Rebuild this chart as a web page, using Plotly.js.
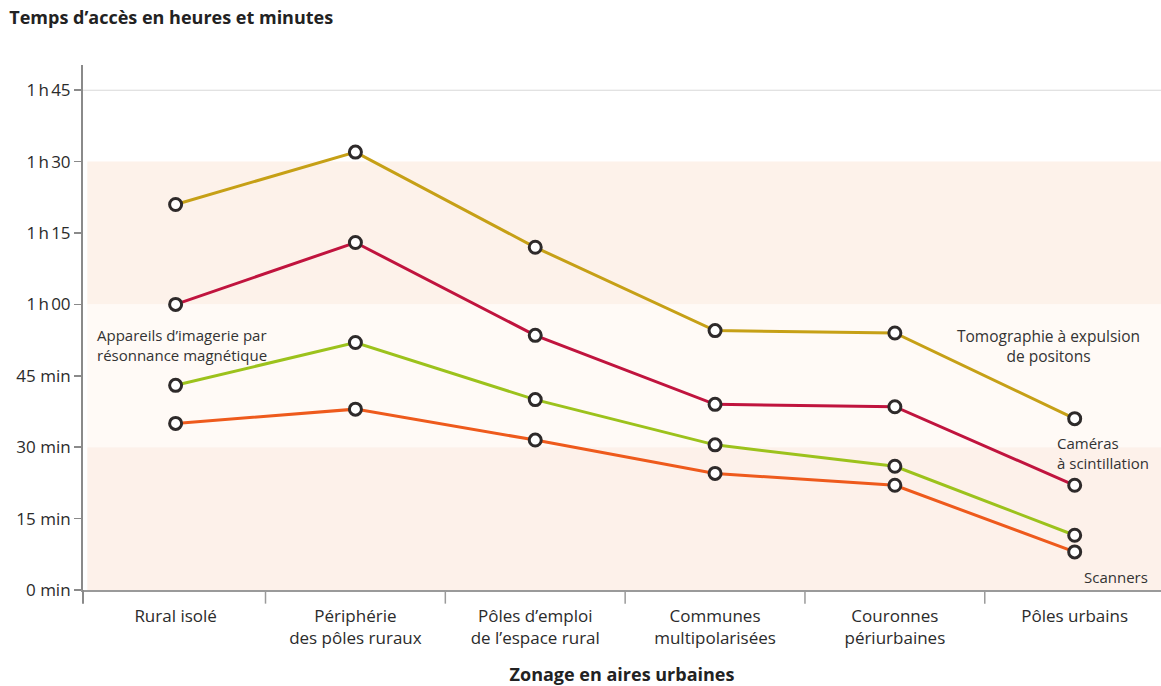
<!DOCTYPE html>
<html>
<head>
<meta charset="utf-8">
<script src="https://cdn.plot.ly/plotly-3.0.1.min.js"></script>
<style>html,body{margin:0;padding:0;background:#fff;}#chart{width:1161px;height:686px;}</style>
</head>
<body>
<div id="chart"></div>
<script>
var categories = ["Rural isolé", "Périphérie<br>des pôles ruraux", "Pôles d’emploi<br>de l’espace rural", "Communes<br>multipolarisées", "Couronnes<br>périurbaines", "Pôles urbains"];
var tepValues = [81, 92, 72, 54.5, 54, 36];
var cameraValues = [60, 73, 53.5, 39, 38.5, 22];
var irmValues = [43, 52, 40, 30.5, 26, 11.5];
var scannerValues = [35, 38, 31.5, 24.5, 22, 8];
var yTickVals = [0, 15, 30, 45, 60, 75, 90, 105];
var yTickText = ["0 min", "15 min", "30 min", "45 min", "1\u202Fh\u202F00", "1\u202Fh\u202F15", "1\u202Fh\u202F30", "1\u202Fh\u202F45"];

var FONT = "Open Sans, Noto Sans, sans-serif";
var xIdx = categories.map(function(c, i){ return i; });

function series(vals, color, name){
  return {
    x: xIdx, y: vals, name: name, type: 'scatter', mode: 'lines+markers',
    line: {color: color, width: 3},
    marker: {size: 12, color: '#ffffff', line: {color: '#2e2a2a', width: 3}},
    hoverinfo: 'y'
  };
}

var data = [
  series(scannerValues, '#ee5a1c', 'Scanners'),
  series(irmValues, '#9cc21c', 'IRM'),
  series(cameraValues, '#c0143e', 'Caméras'),
  series(tepValues, '#c6a016', 'TEP')
];

var layout = {
  width: 1161, height: 686,
  margin: {l: 83, r: 0, t: 65, b: 96},
  paper_bgcolor: '#ffffff', plot_bgcolor: '#ffffff',
  showlegend: false,
  font: {family: FONT, color: '#2b2b2b', size: 14},
  title: {text: '<b>Temps d’accès en heures et minutes</b>', x: 0.008, xanchor: 'left', y: 0.974, yanchor: 'middle',
          font: {family: FONT, size: 18, color: '#222'}},
  xaxis: {
    range: [-0.515, 5.48],
    tickvals: xIdx, ticktext: categories,
    showgrid: false, zeroline: false, showline: true, linecolor: '#9a9a9a', linewidth: 1.5,
    ticks: '', ticklabelstandoff: 10, tickfont: {family: FONT, size: 17, color: '#2b2b2b'},
    title: {text: '<b>Zonage en aires urbaines</b>', font: {family: FONT, size: 18, color: '#222'}, standoff: 22}
  },
  yaxis: {
    range: [0, 110.3],
    tickvals: yTickVals, ticktext: yTickText,
    showgrid: false, zeroline: false, showline: true, linecolor: '#8a8a8a', linewidth: 2,
    ticks: 'outside', ticklen: 7, tickcolor: '#8a8a8a', tickwidth: 1.5,
    tickfont: {family: FONT, size: 17, color: '#2b2b2b'}
  },
  shapes: [
    {type: 'rect', xref: 'paper', yref: 'y', x0: 0.004, x1: 1, y0: 60, y1: 90, fillcolor: '#fdf2ea', line: {width: 0}, layer: 'below'},
    {type: 'rect', xref: 'paper', yref: 'y', x0: 0.004, x1: 1, y0: 30, y1: 60, fillcolor: '#fffaf6', line: {width: 0}, layer: 'below'},
    {type: 'rect', xref: 'paper', yref: 'y', x0: 0.004, x1: 1, y0: 0, y1: 30, fillcolor: '#fdf1ea', line: {width: 0}, layer: 'below'},
    {type: 'line', xref: 'paper', yref: 'y', x0: 0, x1: 1, y0: 105, y1: 105, line: {color: '#d8d8d8', width: 1.2}, layer: 'below'}
  ].concat([0.5, 1.5, 2.5, 3.5, 4.5].map(function(b){
    return {type: 'line', xref: 'x', yref: 'paper', x0: b, x1: b, y0: 0, y1: -0.026, line: {color: '#9a9a9a', width: 1.5}};
  })).concat([
    {type: 'line', xref: 'paper', yref: 'paper', x0: 0, x1: 0, y0: 0, y1: -0.026, line: {color: '#8a8a8a', width: 2}}
  ]),
  annotations: [
    {x: -0.448, y: 51.4, xref: 'x', yref: 'y', xanchor: 'left', yanchor: 'middle', align: 'left', showarrow: false,
     text: 'Appareils d’imagerie par<br>résonnance magnétique', font: {family: FONT, size: 15, color: '#333'}},
    {x: 4.852, y: 51.2, xref: 'x', yref: 'y', xanchor: 'center', yanchor: 'middle', align: 'center', showarrow: false,
     text: 'Tomographie à expulsion<br>de positons', font: {family: FONT, size: 15.5, color: '#333'}},
    {x: 4.891, y: 28.8, xref: 'x', yref: 'y', xanchor: 'left', yanchor: 'middle', align: 'left', showarrow: false,
     text: 'Caméras<br>à scintillation', font: {family: FONT, size: 15, color: '#333'}},
    {x: 5.041, y: 2.7, xref: 'x', yref: 'y', xanchor: 'left', yanchor: 'middle', align: 'left', showarrow: false,
     text: 'Scanners', font: {family: FONT, size: 15, color: '#333'}}
  ]
};

Plotly.newPlot('chart', data, layout, {displayModeBar: false, staticPlot: true});
</script>
</body>
</html>
